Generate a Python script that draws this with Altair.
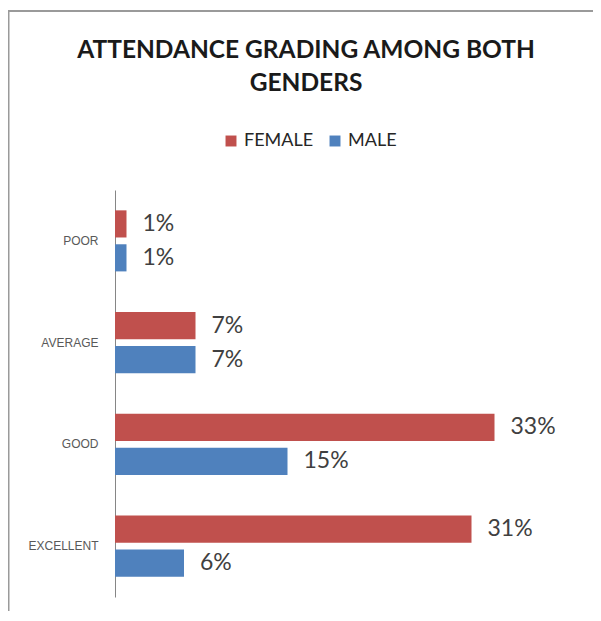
import altair as alt
import pandas as pd

categories = ["POOR", "AVERAGE", "GOOD", "EXCELLENT"]
female = [1, 7, 33, 31]
male = [1, 7, 15, 6]
genders = ["FEMALE", "MALE"]
colors = ["#C0504D", "#4F81BD"]

rows = []
for c, f, m in zip(categories, female, male):
    rows.append({"grade": c, "gender": "FEMALE", "value": f, "label": f"{f}%"})
    rows.append({"grade": c, "gender": "MALE", "value": m, "label": f"{m}%"})
df = pd.DataFrame(rows)

y_enc = alt.Y("grade:N", sort=categories, title=None,
              scale=alt.Scale(paddingInner=0.4, paddingOuter=0.2),
              axis=alt.Axis(ticks=False, labelFontSize=12, labelColor="#595959",
                            labelFont="Liberation Sans", labelPadding=17,
                            domainColor="#868686", domainWidth=1, grid=False))
yoff = alt.YOffset("gender:N", sort=genders, scale=alt.Scale(paddingInner=0.2))
x_enc = alt.X("value:Q", scale=alt.Scale(domain=[0, 40]), axis=None)

base = alt.Chart(df)

bars = base.mark_bar().encode(
    y=y_enc, yOffset=yoff, x=x_enc,
    color=alt.Color("gender:N", sort=genders,
                    scale=alt.Scale(domain=genders, range=colors),
                    legend=alt.Legend(title=None, orient="none", direction="horizontal",
                                      legendX=107, legendY=-58, symbolType="square",
                                      symbolSize=120, symbolStrokeWidth=0,
                                      labelFontSize=18, labelFont="Lato",
                                      labelColor="#262626", columnPadding=12,
                                      labelOffset=4)),
)

texts = base.mark_text(align="left", baseline="middle", dx=16, fontSize=23,
                       font="Lato", color="#404040").encode(
    y=alt.Y("grade:N", sort=categories), yOffset=yoff, x=x_enc, text="label:N")

one = pd.DataFrame({"a": [0]})
frame_top = alt.Chart(one).mark_rule(color="#9A9A9A", strokeWidth=2).encode(
    x=alt.value(-107), x2=alt.value(480), y=alt.value(-179))
frame_left = alt.Chart(one).mark_rule(color="#9A9A9A", strokeWidth=2).encode(
    x=alt.value(-106.5), y=alt.value(-179), y2=alt.value(440))

chart = alt.layer(frame_top, frame_left, bars, texts).properties(
    width=460, height=407,
    autosize=alt.AutoSizeParams(type="none"),
    padding={"left": 107, "top": 182, "right": 18, "bottom": 14},
    background="white",
    title=alt.TitleParams(["ATTENDANCE GRADING AMONG BOTH", "GENDERS"],
                          anchor="middle", frame="group", dx=-39, offset=0, dy=86,
                          fontSize=24.5, font="Lato", fontWeight="bold",
                          color="#1a1a1a", lineHeight=33),
).configure_view(strokeWidth=0, stroke="transparent")

chart.save("out.html", embed_options={"renderer": "svg", "actions": False})
